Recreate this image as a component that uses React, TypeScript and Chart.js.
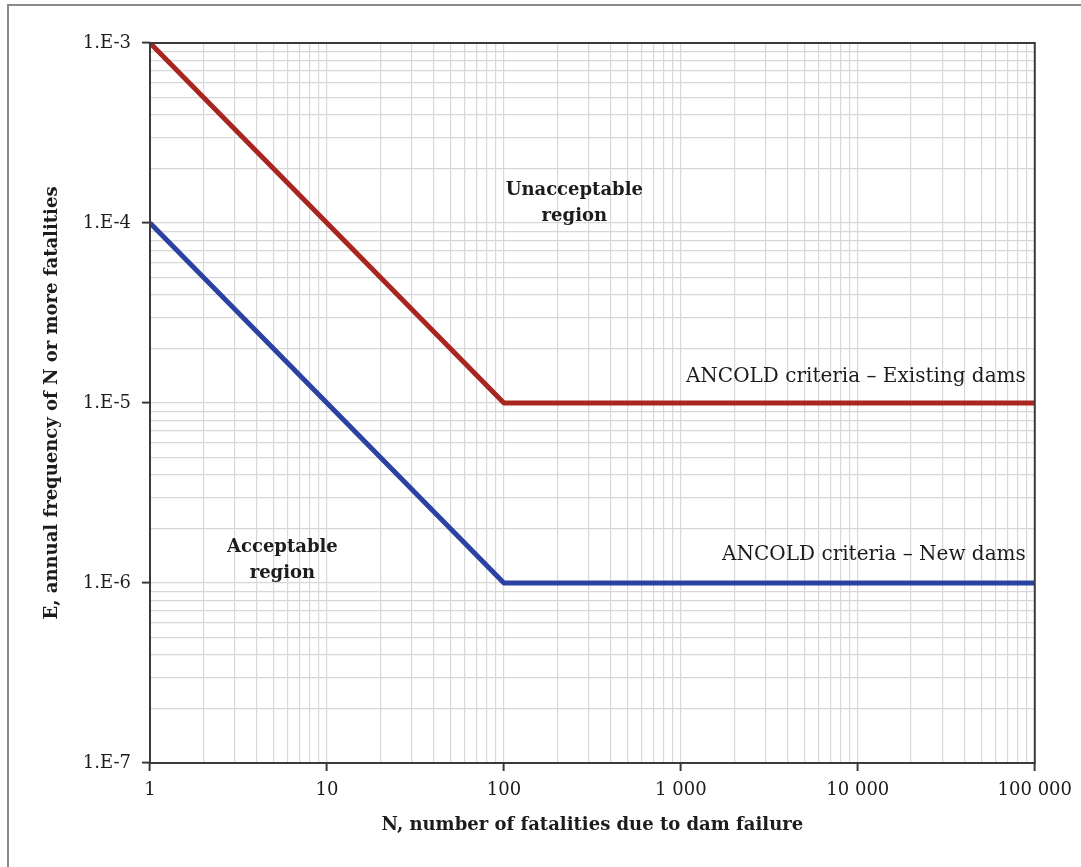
import React, { useEffect, useRef } from 'react';
import { Chart, registerables } from 'chart.js';

Chart.register(...registerables);

// ---- Data ----
const xDecades = [1, 10, 100, 1000, 10000, 100000];
const xTickLabels = ['1', '10', '100', '1 000', '10 000', '100 000'];
const yDecades = [1e-7, 1e-6, 1e-5, 1e-4, 1e-3];
const yTickLabels = ['1.E-7', '1.E-6', '1.E-5', '1.E-4', '1.E-3'];
const minorSteps = [1, 2, 3, 4, 5, 6, 7, 8, 9];

const existingN = [1, 100, 100000];
const existingF = [1e-3, 1e-5, 1e-5];
const newN = [1, 100, 100000];
const newF = [1e-4, 1e-6, 1e-6];

const seriesLabels = ['ANCOLD criteria – Existing dams', 'ANCOLD criteria – New dams'];
const xTitle = 'N, number of fatalities due to dam failure';
const yTitle = 'E, annual frequency of N or more fatalities';

const regionTexts = [
  { lines: ['Unacceptable', 'region'], n: 250, f: 1.28e-4 },
  { lines: ['Acceptable', 'region'], n: 5.6, f: 1.33e-6 },
];
const criteriaTexts = [
  { text: seriesLabels[0], n: 89000, f: 1.39e-5 },
  { text: seriesLabels[1], n: 89000, f: 1.43e-6 },
];

const FONT = "'DejaVu Serif', 'Liberation Serif', serif";
const TEXT = '#1c1c1c';
const AXIS = '#3a3a3a';
const GRID = '#d8d8d8';

const gridValues = (decades: number[], max: number) =>
  decades.flatMap((d) => minorSteps.map((m) => m * d)).filter((v) => v <= max * (1 + 1e-9));

const findDecade = (decades: number[], v: number) =>
  decades.findIndex((d) => Math.abs(d - v) / d < 1e-6);

const framePlugin = {
  id: 'frame',
  beforeDraw(chart: any) {
    const { ctx, width, height } = chart;
    ctx.save();
    ctx.fillStyle = '#ffffff';
    ctx.fillRect(0, 0, width, height);
    ctx.strokeStyle = '#8a8a8a';
    ctx.lineWidth = 2;
    ctx.beginPath();
    ctx.moveTo(8, height);
    ctx.lineTo(8, 5);
    ctx.lineTo(width, 5);
    ctx.stroke();
    ctx.restore();
  },
  afterDatasetsDraw(chart: any) {
    const { ctx, chartArea, scales } = chart;
    ctx.save();
    ctx.strokeStyle = AXIS;
    ctx.lineWidth = 2;
    ctx.strokeRect(chartArea.left, chartArea.top, chartArea.right - chartArea.left, chartArea.bottom - chartArea.top);

    ctx.fillStyle = TEXT;
    ctx.textBaseline = 'middle';
    ctx.textAlign = 'center';
    ctx.font = `bold 18px ${FONT}`;
    regionTexts.forEach((r) => {
      const x = scales.x.getPixelForValue(r.n);
      const y = scales.y.getPixelForValue(r.f);
      const lh = 26;
      r.lines.forEach((line, i) => {
        ctx.fillText(line, x, y + (i - (r.lines.length - 1) / 2) * lh);
      });
    });

    ctx.textAlign = 'right';
    ctx.font = `20px ${FONT}`;
    criteriaTexts.forEach((c) => {
      const x = scales.x.getPixelForValue(c.n);
      const y = scales.y.getPixelForValue(c.f);
      ctx.fillText(c.text, x, y);
    });
    ctx.restore();
  },
};

export default function App() {
  const ref = useRef<HTMLCanvasElement | null>(null);

  useEffect(() => {
    if (!ref.current) return;
    const xGrid = gridValues(xDecades, 100000);
    const yGrid = gridValues(yDecades, 1e-3);

    const chart = new Chart(ref.current, {
      type: 'line',
      data: {
        datasets: [
          {
            label: seriesLabels[0],
            data: existingN.map((n, i) => ({ x: n, y: existingF[i] })),
            borderColor: '#a8261f',
            borderWidth: 5,
            pointRadius: 0,
            borderJoinStyle: 'round',
            tension: 0,
          },
          {
            label: seriesLabels[1],
            data: newN.map((n, i) => ({ x: n, y: newF[i] })),
            borderColor: '#2b42a3',
            borderWidth: 5,
            pointRadius: 0,
            borderJoinStyle: 'round',
            tension: 0,
          },
        ],
      },
      options: {
        responsive: false,
        animation: false,
        devicePixelRatio: 1,
        layout: { padding: { left: 0, right: 44, top: 43, bottom: 0 } },
        plugins: {
          legend: { display: false },
          tooltip: { enabled: false },
        },
        scales: {
          x: {
            type: 'logarithmic',
            position: 'bottom',
            min: 1,
            max: 100000,
            afterBuildTicks: (scale: any) => {
              scale.ticks = xGrid.map((v) => ({ value: v }));
            },
            afterFit: (scale: any) => {
              scale.height = 104;
            },
            border: { display: false },
            grid: {
              color: GRID,
              lineWidth: 1.2,
              drawTicks: true,
              tickLength: 8,
              tickWidth: 2,
              tickColor: (c: any) => (findDecade(xDecades, c.tick?.value) >= 0 ? AXIS : 'rgba(0,0,0,0)'),
            },
            ticks: {
              autoSkip: false,
              maxRotation: 0,
              padding: 9,
              color: TEXT,
              font: { family: FONT, size: 18 },
              callback: (v: any) => {
                const i = findDecade(xDecades, Number(v));
                return i >= 0 ? xTickLabels[i] : '';
              },
            },
            title: {
              display: true,
              text: xTitle,
              color: TEXT,
              font: { family: FONT, size: 18, weight: 'bold' },
              padding: { top: 0, bottom: 31 },
            },
          },
          y: {
            type: 'logarithmic',
            position: 'left',
            min: 1e-7,
            max: 1e-3,
            afterBuildTicks: (scale: any) => {
              scale.ticks = yGrid.map((v) => ({ value: v }));
            },
            afterFit: (scale: any) => {
              scale.width = 150;
            },
            border: { display: false },
            grid: {
              color: GRID,
              lineWidth: 1.2,
              drawTicks: true,
              tickLength: 8,
              tickWidth: 2,
              tickColor: (c: any) => (findDecade(yDecades, c.tick?.value) >= 0 ? AXIS : 'rgba(0,0,0,0)'),
            },
            ticks: {
              autoSkip: false,
              padding: 11,
              color: TEXT,
              font: { family: FONT, size: 18 },
              callback: (v: any) => {
                const i = findDecade(yDecades, Number(v));
                return i >= 0 ? yTickLabels[i] : '';
              },
            },
            title: {
              display: true,
              text: yTitle,
              color: TEXT,
              font: { family: FONT, size: 18, weight: 'bold' },
              padding: { top: 42, bottom: 0 },
            },
          },
        },
      },
      plugins: [framePlugin],
    } as any);

    return () => chart.destroy();
  }, []);

  return (
    <div style={{ position: 'fixed', left: 0, top: 0, width: 1081, height: 867, background: '#fff' }}>
      <canvas ref={ref} width={1081} height={867} style={{ display: 'block', width: 1081, height: 867 }} />
    </div>
  );
}
